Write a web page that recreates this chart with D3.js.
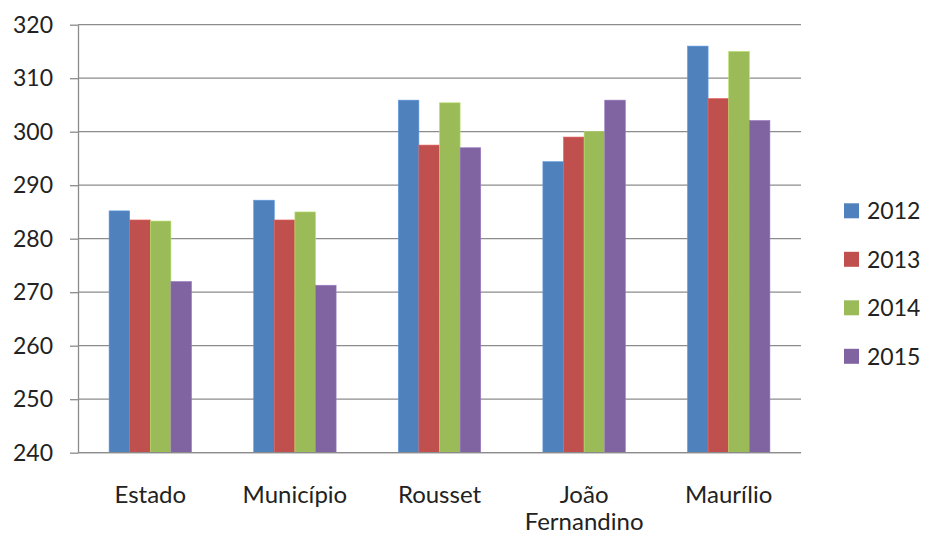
<!DOCTYPE html>
<html>
<head>
<meta charset="utf-8">
<script src="https://cdn.jsdelivr.net/npm/d3@7"></script>
<style>
  html, body { margin: 0; padding: 0; background: #fff; }
  svg { display: block; }
  text { font-family: Lato, "Open Sans", sans-serif; fill: #222; }
</style>
</head>
<body>
<svg id="chart" width="925" height="536"></svg>
<script>
// Categories (x axis), series names and values
const categories = ["Estado", "Município", "Rousset", "João Fernandino", "Maurílio"];
const years = ["2012", "2013", "2014", "2015"];
const values2012 = [285.2, 287.2, 305.9, 294.4, 316.0];
const values2013 = [283.5, 283.5, 297.5, 299.0, 306.2];
const values2014 = [283.3, 285.0, 305.4, 300.0, 315.0];
const values2015 = [272.0, 271.3, 297.0, 305.9, 302.1];
const yTicks = [240, 250, 260, 270, 280, 290, 300, 310, 320];
const colors = ["#4F81BD", "#C0504D", "#9BBB59", "#8064A2"];

const seriesValues = [values2012, values2013, values2014, values2015];

const svg = d3.select("#chart");
const plot = { left: 78, right: 801, top: 24.7, bottom: 452.7 };

const y = d3.scaleLinear().domain([240, 320]).range([plot.bottom, plot.top]);
const x0 = d3.scaleBand().domain(categories).range([plot.left, plot.right])
  .paddingInner(0.43).paddingOuter(0.215);
const x1 = d3.scaleBand().domain(years).range([0, x0.bandwidth()]);
const color = d3.scaleOrdinal().domain(years).range(colors);

// Horizontal gridlines
svg.append("g")
  .selectAll("line")
  .data(yTicks)
  .join("line")
  .attr("x1", plot.left).attr("x2", plot.right)
  .attr("y1", d => y(d)).attr("y2", d => y(d))
  .attr("stroke", "#8c8c8c").attr("stroke-width", 1.3);

// Y axis with outward tick marks
const yAxis = svg.append("g")
  .attr("transform", `translate(${plot.left},0)`)
  .call(d3.axisLeft(y).tickValues(yTicks).tickSize(8).tickPadding(17).tickSizeOuter(0));
yAxis.select(".domain").attr("stroke", "#8c8c8c").attr("stroke-width", 1.3);
yAxis.selectAll(".tick line").attr("stroke", "#8c8c8c").attr("stroke-width", 1.3);
yAxis.selectAll(".tick text")
  .attr("font-size", 23).attr("fill", "#222")
  .style("font-family", "Lato, 'Open Sans', sans-serif");

// Bars
const rows = categories.map((c, i) => ({ category: c, vals: years.map((yr, k) => ({ year: yr, value: seriesValues[k][i] })) }));

svg.append("g")
  .selectAll("g")
  .data(rows)
  .join("g")
  .attr("transform", d => `translate(${x0(d.category)},0)`)
  .selectAll("rect")
  .data(d => d.vals)
  .join("rect")
  .attr("x", d => x1(d.year))
  .attr("width", x1.bandwidth())
  .attr("y", d => y(d.value))
  .attr("height", d => y(240) - y(d.value))
  .attr("fill", d => color(d.year))
  .attr("stroke", d => d3.color(color(d.year)).brighter(0.5))
  .attr("stroke-width", 0.6);

// Bottom axis line
svg.append("line")
  .attr("x1", plot.left).attr("x2", plot.right)
  .attr("y1", y(240)).attr("y2", y(240))
  .attr("stroke", "#8c8c8c").attr("stroke-width", 1.3);

// Category labels (wrapped onto two lines where needed)
const labelWraps = { "João Fernandino": ["João", "Fernandino"] };
svg.append("g")
  .selectAll("text")
  .data(categories)
  .join("text")
  .attr("x", d => x0(d) + x0.bandwidth() / 2)
  .attr("y", 503)
  .attr("text-anchor", "middle")
  .attr("font-size", 24)
  .each(function(d) {
    const lines = labelWraps[d] || [d];
    d3.select(this).selectAll("tspan")
      .data(lines)
      .join("tspan")
      .attr("x", x0(d) + x0.bandwidth() / 2)
      .attr("dy", (l, i) => i === 0 ? 0 : 27)
      .text(l => l);
  });

// Legend
const legend = svg.append("g")
  .selectAll("g")
  .data(years)
  .join("g")
  .attr("transform", (d, i) => `translate(844,${210.8 + i * 48.5})`);
legend.append("rect")
  .attr("x", 0).attr("y", -7.5)
  .attr("width", 15).attr("height", 15)
  .attr("fill", d => color(d));
legend.append("text")
  .attr("x", 23).attr("y", 0)
  .attr("dy", "0.36em")
  .attr("font-size", 23)
  .text(d => d);
</script>
</body>
</html>
